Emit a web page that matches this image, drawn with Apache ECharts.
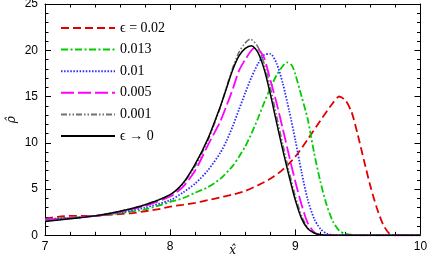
<!DOCTYPE html>
<html><head><meta charset="utf-8">
<script src="https://cdn.jsdelivr.net/npm/echarts@6/dist/echarts.min.js"></script>
<style>html,body{margin:0;padding:0;background:#fff}#c{width:427px;height:259px}</style>
</head><body><div id="c"></div>
<script>
const seriesNames = ['\u03f5 = 0.02', '0.013', '0.01', '0.005', '0.001', '\u03f5 \u2192 0'];
const xTicks = [7, 8, 9, 10];
const yTicks = [0, 5, 10, 15, 20, 25];

const redX = [7.0,7.1,7.2,7.3,7.4,7.5,7.6,7.7,7.8,7.9,8.0,8.1,8.2,8.3,8.4,8.5,8.6,8.7,8.8,8.9,9.0,9.1,9.2,9.3,9.35,9.4,9.45,9.5,9.55,9.6,9.65,9.7,9.75,9.8,10.0];
const redY = [1.8,2.0,2.1,2.1,2.1,2.2,2.3,2.4,2.6,2.8,3.1,3.3,3.5,3.8,4.1,4.4,4.8,5.4,6.1,7.1,8.5,10.4,12.4,14.3,15.0,14.6,13.3,10.8,8.0,5.3,3.0,1.2,0.2,0,0];

const greenX = [7.0,7.2,7.4,7.6,7.8,8.0,8.1,8.2,8.3,8.4,8.5,8.55,8.6,8.65,8.7,8.75,8.8,8.85,8.9,8.93,8.97,9.0,9.05,9.1,9.15,9.2,9.25,9.3,9.35,9.4,9.5,10.0];
const greenY = [1.7,1.9,2.1,2.4,2.8,3.6,4.0,4.6,5.2,6.1,7.5,8.5,9.6,11.0,12.6,14.3,15.9,17.3,18.3,18.7,18.4,17.4,15.0,12.5,8.9,5.8,3.3,1.5,0.5,0.15,0,0];

const blueX = [7.0,7.2,7.4,7.6,7.8,8.0,8.1,8.2,8.3,8.4,8.45,8.5,8.55,8.6,8.65,8.7,8.75,8.8,8.85,8.9,8.95,9.0,9.05,9.1,9.15,9.2,9.25,9.3,9.4,10.0];
const blueY = [1.8,1.85,2.1,2.45,3.0,3.8,4.6,5.6,7.0,8.9,10.2,11.8,13.6,15.4,17.1,18.5,19.5,19.6,18.6,16.4,13.5,10.3,6.8,3.8,1.8,0.7,0.2,0.03,0,0];

const magentaX = [7.0,7.2,7.4,7.6,7.8,8.0,8.1,8.2,8.3,8.4,8.45,8.5,8.55,8.6,8.65,8.68,8.7,8.75,8.8,8.85,8.9,8.95,9.0,9.05,9.1,9.15,9.2,9.3,10.0];
const magentaY = [1.7,1.85,2.1,2.55,3.2,4.2,5.2,7.0,9.7,12.3,14.0,15.8,17.8,19.0,20.0,20.3,20.2,19.2,16.8,14.3,11.5,8.6,5.8,3.3,1.3,0.35,0.05,0,0];

const grayX = [7.0,7.2,7.4,7.6,7.8,8.0,8.1,8.2,8.3,8.4,8.45,8.5,8.55,8.6,8.64,8.7,8.75,8.8,8.85,8.9,8.95,9.0,9.05,9.1,9.15,9.2,9.25,10.0];
const grayY = [1.6,1.8,2.1,2.6,3.3,4.4,5.5,7.5,10.2,13.8,16.0,18.1,19.8,20.8,21.2,20.4,18.6,16.0,12.9,9.8,6.9,4.2,2.1,0.8,0.3,0.05,0,0];

const blackX = [7.0,7.2,7.4,7.6,7.8,8.0,8.1,8.2,8.3,8.4,8.45,8.5,8.55,8.6,8.65,8.7,8.75,8.8,8.85,8.9,8.95,9.0,9.05,9.1,9.15,9.2,9.25,10.0];
const blackY = [1.5,1.8,2.1,2.6,3.3,4.4,5.6,7.7,10.4,13.9,15.9,17.9,19.4,20.2,20.5,19.8,18.0,15.3,12.2,9.2,6.4,3.8,1.8,0.7,0.25,0.05,0,0];

const xsList = [redX, greenX, blueX, magentaX, grayX, blackX];
const ysList = [redY, greenY, blueY, magentaY, grayY, blackY];
const colors = ['#e00000', '#00cc00', '#2a2aff', '#ff00ff', '#707070', '#000000'];
const dashes = [[8,4], [7,2.5,2,2.5], [1.5,1.6], [13,4], [6,2,1.5,2,1.5,2], 'solid'];
const widths = [1.8, 1.8, 1.8, 1.8, 1.6, 1.5];

const chart = echarts.init(document.getElementById('c'), null, {renderer: 'canvas'});
const tickFont = {fontFamily: 'Liberation Sans, Arial, sans-serif', fontSize: 12, color: '#000'};
function axisCommon(extra) {
  return Object.assign({
    type: 'value',
    axisLine: {show: true, onZero: false, lineStyle: {color: '#000', width: 1}},
    axisTick: {show: true, inside: true, length: 6, lineStyle: {color: '#000'}},
    minorTick: {show: true, splitNumber: 5, length: 3.5, lineStyle: {color: '#000'}},
    splitLine: {show: false},
    minorSplitLine: {show: false}
  }, extra);
}
const option = {
  animation: false,
  grid: {left: 45, top: 4, width: 375.5, height: 231.3, containLabel: false, outerBoundsMode: 'none'},
  legend: {
    orient: 'vertical', left: 60, top: 21, padding: 0, itemWidth: 54, itemHeight: 14, itemGap: 7.6,
    itemStyle: {opacity: 0},
    textStyle: {fontFamily: 'Liberation Serif, DejaVu Serif, serif', fontSize: 14, color: '#000', lineHeight: 14},
    data: seriesNames
  },
  xAxis: [
    axisCommon({min: 7, max: 10, interval: 1, position: 'bottom',
      axisLabel: Object.assign({margin: 5, formatter: v => xTicks.includes(v) ? String(v) : ''}, tickFont),
      name: 'x\u0302', nameLocation: 'middle', nameGap: 10, nameMoveOverlap: false,
      nameTextStyle: {fontFamily: 'DejaVu Serif, serif', fontStyle: 'italic', fontSize: 12, color: '#000'}}),
    axisCommon({min: 7, max: 10, interval: 1, position: 'top', axisLabel: {show: false}})
  ],
  yAxis: [
    axisCommon({min: 0, max: 25, interval: 5, position: 'left',
      axisLabel: Object.assign({margin: 7, formatter: v => yTicks.includes(v) ? String(v) : ''}, tickFont),
      name: '\u03c1\u0302', nameLocation: 'middle', nameGap: 27, nameRotate: 90, nameMoveOverlap: false,
      nameTextStyle: {fontFamily: 'DejaVu Serif, serif', fontStyle: 'italic', fontSize: 12, color: '#000'}}),
    axisCommon({min: 0, max: 25, interval: 5, position: 'right', axisLabel: {show: false}})
  ],
  series: seriesNames.map((name, i) => ({
    name: name, type: 'line', xAxisIndex: 0, yAxisIndex: 0,
    data: xsList[i].map((x, k) => [x, ysList[i][k]]),
    symbol: 'none', smooth: 0.25, clip: true,
    lineStyle: {color: colors[i], width: widths[i], type: dashes[i]},
    itemStyle: {color: colors[i]}
  }))
};
chart.setOption(option);
</script></body></html>
